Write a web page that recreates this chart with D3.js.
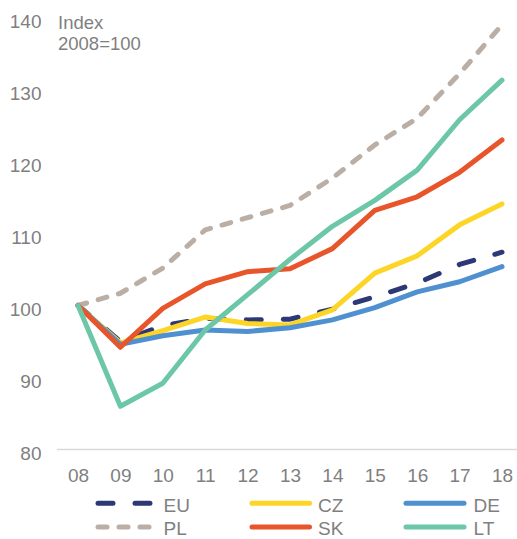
<!DOCTYPE html>
<html>
<head>
<meta charset="utf-8">
<script src="https://cdn.jsdelivr.net/npm/d3@7"></script>
<style>
  html, body { margin: 0; padding: 0; background: #fff; }
  svg { display: block; }
  text { font-family: "Liberation Sans", Arial, sans-serif; fill: #7f7f7f; }
</style>
</head>
<body>
<script>
const years = ["08","09","10","11","12","13","14","15","16","17","18"];
const yTicks = [80, 90, 100, 110, 120, 130, 140];
const seriesNames = ["EU", "CZ", "DE", "PL", "SK", "LT"];
const EU = [100, 95.0, 97.2, 98.2, 98.0, 98.1, 99.5, 101.2, 103.1, 105.7, 107.4];
const CZ = [100, 94.8, 96.5, 98.4, 97.5, 97.3, 99.4, 104.5, 106.9, 111.2, 114.1];
const DE = [100, 94.6, 95.8, 96.6, 96.4, 96.9, 98.0, 99.7, 101.9, 103.3, 105.4];
const PL = [100, 101.7, 105.2, 110.5, 112.2, 113.9, 117.7, 122.3, 126.0, 132.2, 139.0];
const SK = [100, 94.2, 99.6, 103.0, 104.7, 105.1, 107.9, 113.2, 115.1, 118.5, 123.0];
const LT = [100, 86.0, 89.2, 96.6, 101.5, 106.4, 111.0, 114.6, 118.8, 125.8, 131.3];
const unitLabel = ["Index", "2008=100"];

const colors = { EU: "#2d3877", CZ: "#fdd526", DE: "#4f90d1", PL: "#bbaea5", SK: "#e8552a", LT: "#6cc7a7" };
const dashes = { EU: "15,22", PL: "9,12" };
const dataBy = { EU, CZ, DE, PL, SK, LT };

const W = 517, H = 539;
const svg = d3.select("body").append("svg").attr("width", W).attr("height", H);

const x = d3.scalePoint().domain(years).range([78, 502]);
const y = d3.scaleLinear().domain([80, 140]).range([449.5, 17.5]);

// y labels
const yAxis = d3.axisLeft(y).tickValues(yTicks).tickSize(0).tickPadding(0);
const gy = svg.append("g").attr("transform", "translate(41.5,0)").call(yAxis);
gy.select(".domain").remove();
gy.selectAll("text")
  .attr("font-size", "19px")
  .attr("font-family", "Liberation Sans, Arial, sans-serif")
  .attr("fill", "#7f7f7f")
  .attr("dy", null)
  .attr("dominant-baseline", "auto")
  .attr("y", 10.2)
  .attr("x", 0)
  .attr("text-anchor", "end");

// x axis line
svg.append("line")
  .attr("x1", 57).attr("x2", W)
  .attr("y1", y(80)).attr("y2", y(80))
  .attr("stroke", "#d9d9d9").attr("stroke-width", 1.5);

// x labels
const xAxis = d3.axisBottom(x).tickSize(0).tickPadding(0);
const gx = svg.append("g").call(xAxis);
gx.select(".domain").remove();
gx.selectAll("text")
  .attr("font-size", "19px")
  .attr("font-family", "Liberation Sans, Arial, sans-serif")
  .attr("fill", "#7f7f7f")
  .attr("dy", null)
  .attr("y", 481.5)
  .attr("text-anchor", "middle");

// unit label
svg.append("text").attr("x", 58).attr("y", 28.5).attr("font-size", "18.5px").text(unitLabel[0]);
svg.append("text").attr("x", 58).attr("y", 49.5).attr("font-size", "18.5px").text(unitLabel[1]);

// lines
const line = d3.line().x((d, i) => x(years[i])).y(d => y(d));
seriesNames.forEach(name => {
  svg.append("path")
    .datum(dataBy[name])
    .attr("d", line)
    .attr("fill", "none")
    .attr("stroke", colors[name])
    .attr("stroke-width", 5)
    .attr("stroke-linecap", "round")
    .attr("stroke-linejoin", "round")
    .attr("stroke-dasharray", dashes[name] || null);
});

// legend
const legCols = [[95.5, 153], [249.5, 312], [403.5, 466.5]];
const legTextX = [163.5, 318, 473.5];
const legRows = [503.3, 527];
const legTextY = [512.3, 534.5];
seriesNames.forEach((name, i) => {
  const col = i % 3, row = Math.floor(i / 3);
  const [x1, x2] = legCols[col];
  const ly = legRows[row];
  svg.append("line")
    .attr("x1", x1 + 2.5).attr("x2", x2 - 2.5)
    .attr("y1", ly).attr("y2", ly)
    .attr("stroke", colors[name])
    .attr("stroke-width", 5)
    .attr("stroke-linecap", "round")
    .attr("stroke-dasharray", dashes[name] || null);
  svg.append("text")
    .attr("x", legTextX[col])
    .attr("y", legTextY[row])
    .attr("font-size", "19px")
    .text(name);
});
</script>
</body>
</html>
